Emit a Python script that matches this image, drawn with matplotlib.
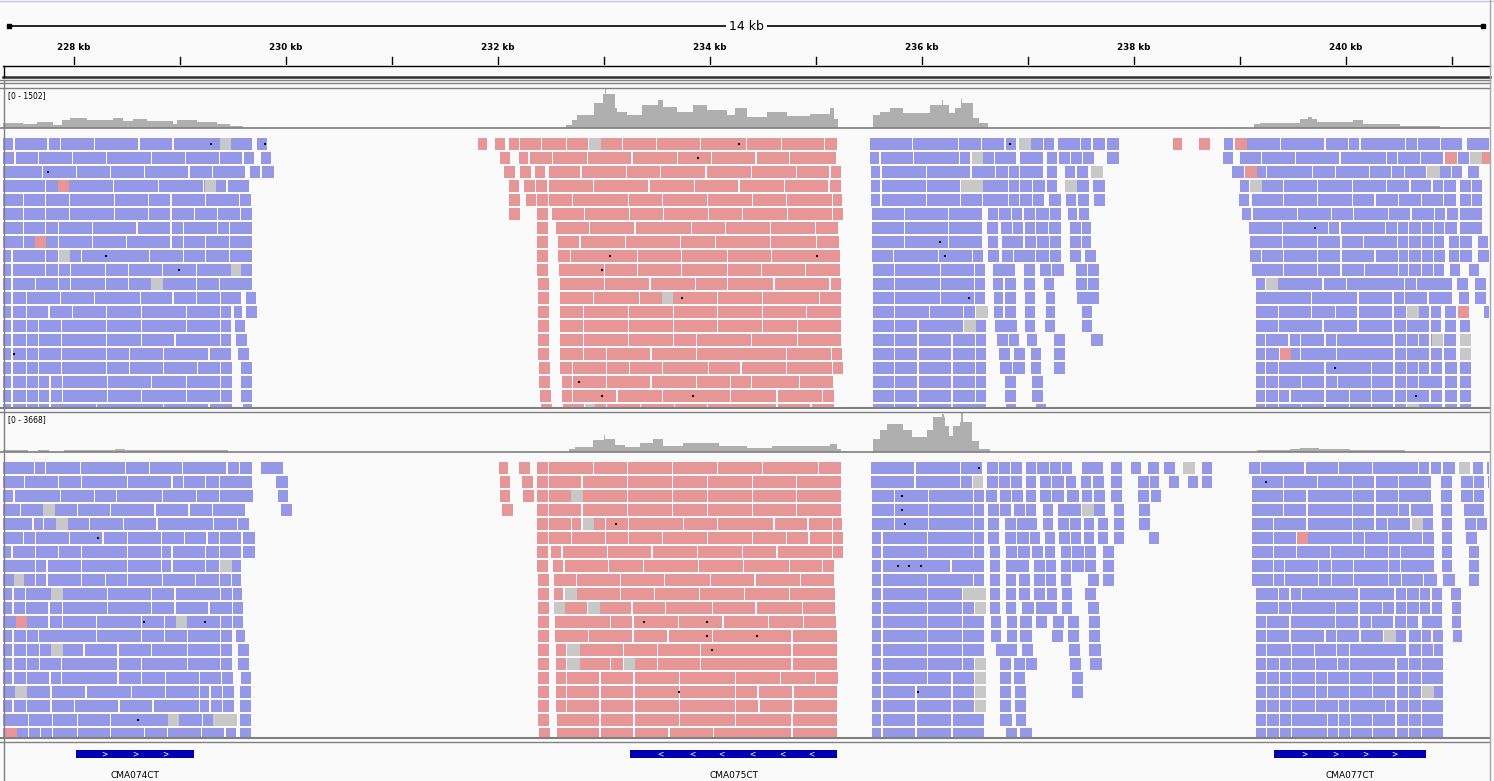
import matplotlib
matplotlib.use('Agg')
import matplotlib.pyplot as plt

# visible window (kb) and genes
X0, X1 = 227.33, 241.36
gene_names = ['CMA074CT', 'CMA075CT', 'CMA077CT']
gene_start = [228.02, 233.25, 239.32]
gene_end = [229.13, 235.20, 240.76]
gene_strand = ['+', '-', '+']
gene_chevrons = [[228.29, 228.58, 228.86],
                 [233.53, 233.83, 234.11, 234.40, 234.68, 234.96],
                 [239.61, 239.90, 240.18, 240.46]]

# coverage tracks: step points (kb, depth)
cov1_max = 1502
cov1_pos = [227.33, 227.52, 227.65, 227.80, 227.89, 227.96, 228.12, 228.37, 228.46, 228.56,
            228.69, 228.93, 228.97, 229.16, 229.35, 229.47, 229.59,
            232.64, 232.70, 232.75, 232.91, 232.99, 233.01, 233.02, 233.10, 233.12, 233.22,
            233.36, 233.51, 233.56, 233.69, 233.84, 233.97, 234.16, 234.24, 234.35, 234.54,
            234.73, 234.94, 235.13, 235.17, 235.21,
            235.54, 235.60, 235.70, 235.82, 236.08, 236.19, 236.20, 236.26, 236.31, 236.37,
            236.38, 236.48, 236.54, 236.62,
            239.13, 239.19, 239.57, 239.64, 239.68, 239.73, 240.07, 240.16, 240.51, 240.89]
cov1_val = [158, 119, 198, 79, 277, 356, 277, 375, 237, 316,
            237, 119, 277, 198, 138, 59, 0,
            79, 277, 474, 948, 1304, 1502, 1304, 751, 593, 474,
            869, 1067, 790, 593, 869, 672, 474, 751, 395, 593,
            435, 514, 751, 316, 0,
            474, 593, 751, 553, 869, 1067, 869, 553, 751, 1106,
            948, 356, 158, 0,
            119, 158, 316, 395, 316, 198, 277, 119, 59, 0]

cov2_max = 3668
cov2_pos = [227.33, 227.57, 227.66, 227.76, 227.91, 228.39, 228.48, 229.45,
            232.67, 232.73, 232.90, 233.00, 233.01, 233.10, 233.20, 233.34, 233.46, 233.56,
            233.75, 234.09, 234.35, 234.59, 235.13, 235.20, 235.24,
            235.54, 235.60, 235.67, 235.82, 235.91, 236.05, 236.10, 236.19, 236.21, 236.22,
            236.26, 236.29, 236.36, 236.37, 236.39, 236.47, 236.54, 236.64,
            239.16, 239.47, 239.57, 239.75, 240.04, 240.56]
cov2_val = [97, 0, 97, 0, 145, 193, 145, 0,
            193, 386, 1062, 1544, 1158, 579, 386, 772, 1158, 483,
            772, 483, 290, 483, 676, 193, 0,
            1158, 2027, 2606, 2027, 1351, 2027, 3281, 3571, 3281, 2413,
            1448, 2413, 2799, 3668, 2799, 965, 193, 0,
            97, 193, 290, 193, 145, 0]

# reads: one list per row, each row holds runs of read boundaries (kb)
t1_left = [
    [[227.33, 227.44, 227.76, 227.88, 228.20, 228.62, 228.94, 229.69], [229.73, 229.83]],
    [[227.33, 227.45, 227.67, 227.99, 228.31, 228.74, 229.06, 229.38, 229.60, 229.71], [229.76, 229.87]],
    [[227.33, 227.71, 228.03, 228.35, 228.67, 229.09, 229.31, 229.63], [229.66, 229.77, 229.90]],
    [[227.33, 227.74, 228.38, 228.80, 229.23, 229.45, 229.66]],
    [[227.33, 227.53, 227.74, 227.96, 228.39, 228.71, 228.92, 229.25, 229.57, 229.68]],
    [[227.33, 227.53, 227.74, 227.96, 228.39, 228.71, 228.92, 229.14, 229.36, 229.58, 229.69]],
    [[227.33, 227.53, 227.74, 227.86, 228.18, 228.60, 228.92, 229.04, 229.36, 229.47, 229.69]],
    [[227.33, 227.53, 227.74, 227.86, 228.18, 228.50, 228.92, 229.04, 229.25, 229.47, 229.69]],
    [[227.33, 227.42, 227.74, 227.86, 228.08, 228.72, 229.04, 229.25, 229.47, 229.69]],
    [[227.33, 227.42, 227.74, 227.86, 227.97, 228.30, 228.52, 228.84, 229.16, 229.69]],
    [[227.33, 227.42, 227.64, 227.86, 227.97, 228.30, 228.52, 229.16, 229.38, 229.69]],
    [[227.33, 227.42, 227.56, 227.88, 228.20, 228.63, 228.94, 229.16, 229.39, 229.59], [229.62, 229.73]],
    [[227.33, 227.42, 227.56, 227.77, 227.99, 228.31, 228.64, 229.07, 229.39, 229.49], [229.51, 229.60], [229.62, 229.74]],
    [[227.33, 227.42, 227.56, 227.67, 227.89, 228.31, 228.64, 229.07, 229.39, 229.49], [229.52, 229.63]],
    [[227.33, 227.42, 227.56, 227.67, 227.89, 228.31, 228.64, 228.96, 229.39, 229.49], [229.53, 229.64]],
    [[227.33, 227.42, 227.56, 227.67, 227.89, 228.31, 228.53, 228.85, 229.28, 229.49], [229.55, 229.66]],
    [[227.33, 227.42, 227.56, 227.67, 227.89, 228.31, 228.53, 228.85, 229.17, 229.39, 229.50], [229.58, 229.69]],
    [[227.33, 227.42, 227.56, 227.67, 227.78, 227.90, 228.32, 228.74, 229.07, 229.39, 229.50], [229.58, 229.69]],
    [[227.33, 227.42, 227.56, 227.67, 227.78, 227.90, 228.32, 228.64, 229.07, 229.39, 229.50], [229.58, 229.69]],
    [[227.33, 227.42, 227.56, 227.67, 227.78, 228.22, 228.85, 229.28, 229.50], [229.59, 229.69]],
]
t1_pink = [
    [[231.81, 231.91], [231.97, 232.08], [232.10, 232.21, 232.42, 232.65, 232.86, 233.18, 233.50, 233.92, 234.35, 234.68, 235.09, 235.21],
     [238.37, 238.47], [238.61, 238.73]],
    [[232.02, 232.13], [232.20, 232.30, 232.52, 232.85, 233.27, 233.70, 234.02, 234.44, 234.76, 235.20]],
    [[232.06, 232.17], [232.21, 232.32], [232.35, 232.46], [232.48, 232.79, 233.22, 233.54, 233.97, 234.40, 234.82, 235.14, 235.25]],
    [[232.10, 232.21], [232.25, 232.36, 232.47], [232.48, 232.91, 233.43, 233.86, 234.28, 234.71, 235.13, 235.25]],
    [[232.10, 232.22], [232.26, 232.37, 232.48, 232.71, 233.24, 233.56, 233.98, 234.41, 234.73, 235.16, 235.26]],
    [[232.10, 232.22], [232.37, 232.48], [232.51, 232.82, 233.25, 233.57, 233.99, 234.31, 234.74, 235.16, 235.27]],
    [[232.37, 232.48], [232.55, 232.87, 233.30, 233.83, 234.15, 234.58, 235.00, 235.22]],
    [[232.37, 232.48], [232.57, 232.78, 233.21, 233.73, 234.06, 234.58, 235.01, 235.23]],
    [[232.37, 232.48], [232.57, 232.69, 233.32, 233.74, 234.17, 234.59, 235.24]],
    [[232.37, 232.48], [232.58, 233.01, 233.32, 233.74, 234.17, 234.49, 234.91, 235.24]],
    [[232.38, 232.49], [232.59, 233.01, 233.44, 233.87, 234.17, 234.61, 235.14, 235.25]],
    [[232.38, 232.49], [232.59, 232.91, 233.34, 234.08, 234.50, 235.04, 235.25]],
    [[232.38, 232.49], [232.59, 232.81, 233.24, 233.66, 234.08, 234.50, 234.92, 235.25]],
    [[232.38, 232.49], [232.59, 232.81, 233.24, 233.66, 234.08, 234.50, 234.83, 235.25]],
    [[232.38, 232.49], [232.59, 232.81, 233.24, 233.66, 233.88, 234.40, 234.83, 235.25]],
    [[232.38, 232.49], [232.59, 232.81, 233.03, 233.45, 233.88, 234.73, 235.15, 235.26]],
    [[232.39, 232.50], [232.59, 232.71, 233.03, 233.25, 233.56, 233.99, 234.30, 234.73, 235.16, 235.27]],
    [[232.39, 232.50], [232.60, 232.71, 233.03, 233.45, 233.88, 234.20, 234.40, 234.85, 235.17]],
    [[232.40, 232.51], [232.60, 232.71, 233.13, 233.56, 234.20, 234.64, 235.07, 235.18]],
    [[232.41, 232.52], [232.61, 232.82, 233.03, 233.35, 233.67, 233.98, 234.64, 234.96, 235.18]],
]
t1_mid = [
    [[235.51, 235.92, 236.35, 236.57, 236.79, 236.90], [236.92, 237.03, 237.15, 237.26], [237.28, 237.50, 237.61, 237.74], [237.75, 237.87]],
    [[235.51, 235.61, 235.93, 236.36, 236.47, 236.58, 236.69, 236.90], [236.93, 237.15], [237.18, 237.29, 237.41, 237.52, 237.64], [237.75, 237.87]],
    [[235.52, 235.62, 236.05, 236.47, 236.70, 236.82, 236.93, 237.15], [237.18, 237.29], [237.35, 237.46, 237.58], [237.60, 237.71]],
    [[235.52, 235.62, 236.05, 236.37, 236.58, 236.82, 236.93, 237.05, 237.17], [237.18, 237.29], [237.35, 237.46, 237.59], [237.61, 237.74]],
    [[235.52, 235.62, 236.05, 236.37, 236.58, 236.82, 236.93, 237.05, 237.16], [237.20, 237.32], [237.36, 237.47, 237.59], [237.62, 237.74]],
    [[235.53, 235.84, 236.26, 236.58], [236.62, 236.73, 236.85, 236.96, 237.08, 237.21, 237.32], [237.38, 237.48, 237.59]],
    [[235.53, 235.84, 236.26, 236.58], [236.61, 236.73], [236.75, 236.86, 236.97, 237.08, 237.20, 237.32], [237.40, 237.51, 237.61]],
    [[235.53, 235.84, 236.26, 236.58], [236.62, 236.73], [236.76, 236.97, 237.09, 237.21, 237.32], [237.40, 237.51, 237.61]],
    [[235.53, 235.74, 236.16, 236.48, 236.59], [236.62, 236.74], [236.76, 236.87, 237.08, 237.21, 237.32], [237.40, 237.51], [237.54, 237.65]],
    [[235.54, 235.75, 236.18, 236.50, 236.61], [236.67, 236.89], [236.96, 237.08], [237.11, 237.23, 237.35], [237.45, 237.57, 237.68]],
    [[235.54, 235.75, 236.18, 236.50, 236.61], [236.67, 236.78, 236.90], [236.96, 237.08], [237.15, 237.26], [237.45, 237.57, 237.68]],
    [[235.54, 235.75, 236.18, 236.50, 236.61], [236.68, 236.78, 236.90], [236.97, 237.08], [237.17, 237.27], [237.46, 237.68]],
    [[235.54, 235.75, 236.08, 236.40, 236.51, 236.62], [236.68, 236.78, 236.90], [236.97, 237.08], [237.17, 237.27], [237.51, 237.62]],
    [[235.54, 235.75, 235.97, 236.40, 236.51, 236.62], [236.69, 236.91], [236.97, 237.08], [237.16, 237.27], [237.51, 237.62]],
    [[235.54, 235.75, 235.97, 236.29, 236.51, 236.62], [236.71, 236.82, 236.93], [236.99, 237.10], [237.25, 237.36], [237.60, 237.72]],
    [[235.54, 235.75, 235.97, 236.29, 236.51, 236.62], [236.73, 236.84], [236.87, 236.98], [237.03, 237.14], [237.25, 237.36]],
    [[235.54, 235.75, 235.97, 236.29, 236.51, 236.62], [236.74, 236.86, 236.98], [237.03, 237.14], [237.25, 237.36]],
    [[235.54, 235.75, 235.97, 236.29, 236.51, 236.62], [236.78, 236.90], [237.04, 237.15]],
    [[235.54, 235.75, 235.97, 236.29, 236.51, 236.62], [236.78, 236.90], [237.04, 237.15]],
    [[235.54, 235.75, 235.97, 236.29, 236.62], [236.79, 236.90], [237.08, 237.18]],
]
t1_right = [
    [[238.85, 238.95, 239.07, 239.39, 239.81, 240.03, 240.14, 240.57, 240.68, 240.90, 241.11], [241.14, 241.36]],
    [[238.84, 238.95], [239.00, 239.21, 239.53, 239.95, 240.39, 240.49, 240.71, 240.93], [240.94, 241.06, 241.17, 241.28, 241.36]],
    [[238.93, 239.05, 239.16, 239.26, 239.69, 239.91, 240.23, 240.44, 240.56, 240.77, 240.89, 241.00, 241.11], [241.15, 241.27]],
    [[239.00, 239.10, 239.21, 239.42, 239.74, 240.07, 240.39, 240.61, 240.82, 240.93, 241.05], [241.08, 241.19, 241.30]],
    [[238.99, 239.10], [239.11, 239.42, 239.74, 240.07, 240.28, 240.50, 240.72, 240.93, 241.05], [241.08, 241.19, 241.30]],
    [[239.02, 239.12, 239.55, 239.87, 240.08, 240.41, 240.62, 240.84, 240.95, 241.07], [241.08, 241.30]],
    [[239.09, 239.41, 239.84, 239.95, 240.38, 240.49, 240.60, 240.72, 240.83, 240.94, 241.06], [241.08, 241.30]],
    [[239.10, 239.41, 239.74, 239.96, 240.17, 240.49, 240.60, 240.72, 240.83, 240.94], [240.97, 241.08, 241.20], [241.25, 241.35]],
    [[239.10, 239.21, 239.42, 239.74, 239.96, 240.28, 240.50, 240.60, 240.72, 240.83, 240.95], [240.97, 241.08, 241.20], [241.25, 241.36]],
    [[239.11, 239.42, 239.74, 239.96, 240.18, 240.50, 240.60, 240.72, 240.83, 240.94], [240.98, 241.09], [241.16, 241.27]],
    [[239.15, 239.25, 239.36, 239.79, 240.01, 240.56, 240.67, 241.01], [241.05, 241.16], [241.22, 241.33]],
    [[239.15, 239.68, 240.12, 240.45, 240.56, 240.78, 241.01], [241.07, 241.17], [241.22, 241.33]],
    [[239.15, 239.37, 239.68, 239.91, 240.12, 240.45, 240.58, 240.69, 240.80, 240.91], [240.94, 241.05], [241.06, 241.16], [241.30, 241.36]],
    [[239.15, 239.37, 239.79, 240.12, 240.45, 240.58, 240.80, 240.91], [240.94, 241.05], [241.08, 241.18]],
    [[239.15, 239.25, 239.47, 239.58, 239.81, 239.92, 240.46, 240.58, 240.69, 240.80, 240.92], [240.93, 241.05], [241.08, 241.18]],
    [[239.15, 239.25, 239.38, 239.48, 239.58, 239.92, 240.46, 240.58, 240.80, 240.92], [240.93, 241.05], [241.08, 241.18]],
    [[239.15, 239.25, 239.37, 239.81, 240.25, 240.46, 240.58, 240.69, 240.80, 240.92], [240.94, 241.06], [241.08, 241.19]],
    [[239.15, 239.25, 239.37, 239.59, 239.81, 239.93, 240.25, 240.46, 240.58, 240.69, 240.92], [240.94, 241.06], [241.08, 241.19]],
    [[239.15, 239.25, 239.37, 239.48, 239.81, 240.04, 240.25, 240.46, 240.58, 240.80, 240.92], [240.94, 241.06], [241.08, 241.19]],
    [[239.15, 239.25, 239.37, 239.59, 239.81, 240.04, 240.25, 240.46, 240.58, 240.69, 240.92], [240.94, 241.06], [241.08, 241.19]],
]
# mismatch blocks (row, start, end, g=grey / p=pink) and insertion dots (row, pos)
t1_marks = [(0, 229.38, 229.48, 'g'), (3, 229.24, 229.34, 'g'), (8, 227.86, 227.96, 'g'), (9, 229.48, 229.58, 'g'),
            (10, 228.73, 228.84, 'g'), (3, 227.85, 227.95, 'p'), (7, 227.63, 227.74, 'p'),
            (0, 232.86, 232.97, 'g'), (11, 233.55, 233.65, 'g'), (19, 232.82, 232.92, 'g'),
            (0, 236.92, 237.03, 'g'), (1, 236.47, 236.58, 'g'), (2, 237.60, 237.71, 'g'), (3, 236.37, 236.58, 'g'),
            (3, 237.35, 237.46, 'g'), (12, 236.51, 236.62, 'g'), (13, 236.40, 236.51, 'g'),
            (0, 238.95, 239.07, 'p'), (1, 240.94, 241.05, 'p'), (1, 241.28, 241.36, 'p'), (1, 241.17, 241.28, 'g'),
            (2, 239.05, 239.16, 'p'), (2, 240.77, 240.89, 'g'), (3, 239.10, 239.21, 'g'), (10, 239.25, 239.36, 'g'),
            (12, 240.58, 240.69, 'g'), (12, 241.06, 241.16, 'p'), (14, 240.81, 240.92, 'g'), (14, 241.08, 241.18, 'g'),
            (15, 239.38, 239.48, 'p'), (15, 241.08, 241.18, 'g'), (19, 240.58, 240.69, 'g')]
t1_dots = [(0, 229.29), (0, 229.80), (2, 227.75), (8, 228.30), (9, 228.99), (15, 227.43),
           (0, 234.27), (1, 233.89), (8, 233.06), (8, 235.01), (9, 232.98), (11, 233.74), (17, 232.76),
           (18, 232.98), (18, 233.84), (0, 236.83), (7, 236.17), (8, 236.22), (11, 236.44),
           (6, 239.71), (16, 239.90), (18, 240.66)]

t2_left = [
    [[227.33, 227.63, 227.74, 228.07, 228.49, 228.72, 229.03, 229.45, 229.57, 229.69], [229.76, 229.98]],
    [[227.33, 227.54, 227.86, 228.08, 228.51, 228.93, 229.04, 229.25, 229.38, 229.69], [229.91, 230.03]],
    [[227.33, 227.44, 227.88, 228.20, 228.41, 228.84, 229.16, 229.38, 229.70], [229.92, 230.03]],
    [[227.33, 227.50, 228.04, 228.35, 228.77, 229.09, 229.31, 229.63], [229.95, 230.07]],
    [[227.33, 227.62, 227.72, 228.15, 228.47, 228.79, 229.32, 229.55, 229.66]],
    [[227.33, 227.53, 227.64, 227.96, 228.28, 228.51, 228.83, 229.05, 229.26, 229.38, 229.59, 229.72]],
    [[227.33, 227.42, 227.64, 227.86, 228.08, 228.51, 228.83, 228.93, 229.25, 229.38, 229.59, 229.72]],
    [[227.33, 227.64, 227.75, 228.08, 228.51, 228.83, 228.93, 229.25, 229.38, 229.59]],
    [[227.33, 227.64, 227.75, 228.08, 228.30, 228.51, 228.84, 229.15, 229.38, 229.49, 229.59]],
    [[227.33, 227.43, 227.55, 228.32, 228.74, 228.96, 229.39, 229.50, 229.60]],
    [[227.33, 227.43, 227.55, 227.77, 227.90, 228.32, 228.74, 228.96, 229.28, 229.50, 229.61]],
    [[227.33, 227.77, 227.90, 228.22, 228.64, 228.86, 229.39, 229.50, 229.61]],
    [[227.33, 227.43, 227.56, 227.67, 228.22, 228.64, 228.86, 229.08, 229.39, 229.50], [229.53, 229.63]],
    [[227.33, 227.43, 227.56, 227.68, 228.10, 228.42, 228.74, 229.08, 229.39, 229.50], [229.55, 229.66]],
    [[227.33, 227.43, 227.56, 227.68, 227.89, 228.42, 228.64, 229.08, 229.39, 229.50], [229.55, 229.66]],
    [[227.33, 227.43, 227.56, 227.78, 227.89, 228.42, 228.64, 228.87, 229.19, 229.40, 229.51], [229.58, 229.68]],
    [[227.33, 227.79, 228.12, 228.55, 228.87, 229.19, 229.29, 229.41, 229.52], [229.57, 229.68]],
    [[227.33, 227.43, 227.56, 227.79, 228.01, 228.43, 228.75, 229.19, 229.29, 229.41, 229.52], [229.57, 229.68]],
    [[227.33, 227.58, 227.80, 228.04, 228.35, 229.22, 229.54], [229.57, 229.68]],
    [[227.33, 227.58, 227.69, 227.80, 228.04, 228.35, 228.67, 228.89, 229.21, 229.43, 229.54], [229.57, 229.68]],
]
t2_pink = [
    [[232.01, 232.11], [232.20, 232.31], [232.37, 232.48, 232.91, 233.23, 233.65, 234.08, 234.50, 235.03, 235.25]],
    [[232.02, 232.13], [232.23, 232.34], [232.37, 232.48, 232.80, 233.23, 233.65, 233.98, 234.41, 234.82, 235.25]],
    [[232.02, 232.13], [232.24, 232.35], [232.37, 232.48, 232.80, 233.23, 233.65, 233.98, 234.41, 234.82, 235.25]],
    [[232.04, 232.15], [232.37, 232.48, 232.80, 233.23, 233.65, 233.98, 234.41, 234.82, 235.25]],
    [[232.37, 232.48, 232.70, 232.80, 232.91, 233.02, 233.24, 233.76, 234.08, 234.61, 234.93, 235.16, 235.26]],
    [[232.37, 232.48, 232.70, 233.02, 233.24, 233.56, 233.98, 234.41, 234.73, 234.94, 235.16, 235.27]],
    [[232.37, 232.48], [232.50, 232.61, 233.04, 233.46, 233.89, 234.31, 234.64, 235.16, 235.27]],
    [[232.37, 232.48], [232.52, 232.63, 233.05, 233.38, 233.90, 234.32, 234.76, 235.07, 235.18]],
    [[232.38, 232.49], [232.53, 232.75, 233.16, 233.58, 234.01, 234.43, 234.86, 235.18]],
    [[232.38, 232.49], [232.53, 232.63, 232.75, 233.16, 233.48, 233.91, 234.33, 234.76, 235.19]],
    [[232.38, 232.49], [232.53, 232.63, 232.85, 232.96, 233.27, 233.59, 234.03, 234.44, 234.88, 235.19]],
    [[232.38, 232.49], [232.54, 233.07, 233.28, 233.71, 234.13, 234.56, 234.89, 235.20]],
    [[232.38, 232.49], [232.54, 232.86, 233.28, 233.61, 234.03, 234.78, 235.21]],
    [[232.38, 232.49], [232.55, 232.65, 232.77, 233.19, 233.51, 233.92, 234.78, 235.21]],
    [[232.38, 232.49], [232.55, 232.65, 232.77, 233.07, 233.19, 233.29, 233.51, 233.92, 234.78, 235.21]],
    [[232.38, 232.49], [232.55, 232.65, 232.97, 233.29, 233.72, 234.25, 234.67, 235.00, 235.22]],
    [[232.38, 232.49], [232.55, 232.65, 232.97, 233.29, 233.72, 234.25, 234.46, 234.79, 235.21]],
    [[232.38, 232.49], [232.55, 232.65, 232.97, 233.29, 233.72, 234.25, 234.47, 234.79, 235.21]],
    [[232.38, 232.49], [232.56, 232.97, 233.29, 233.72, 234.25, 234.78, 235.21]],
    [[232.39, 232.50], [232.56, 232.97, 233.29, 233.62, 234.04, 234.78, 235.21]],
]
t2_mid = [
    [[235.52, 235.94, 236.37, 236.58], [236.61, 236.73, 236.84, 236.96], [236.98, 237.09, 237.21, 237.32, 237.43], [237.51, 237.72],
     [237.78, 237.90], [237.97, 238.08], [238.13, 238.25], [238.28, 238.40], [238.46, 238.58], [238.64, 238.75]],
    [[235.52, 235.94, 236.37, 236.48, 236.58], [236.61, 236.73, 236.84, 236.96], [236.98, 237.09], [237.11, 237.23, 237.35],
     [237.36, 237.47], [237.50, 237.61, 237.73], [237.78, 237.90], [238.04, 238.15, 238.25], [238.33, 238.44], [238.51, 238.62], [238.64, 238.75]],
    [[235.53, 235.75, 236.07, 236.49, 236.60, 236.72], [236.74, 236.85, 236.97], [236.98, 237.09], [237.11, 237.23, 237.35],
     [237.37, 237.49], [237.51, 237.62, 237.74], [237.78, 237.90], [238.04, 238.15], [238.16, 238.27]],
    [[235.53, 235.75, 236.07, 236.49, 236.60], [236.62, 236.74, 236.85], [236.87, 236.98, 237.09], [237.14, 237.25],
     [237.28, 237.51, 237.62, 237.74], [237.81, 237.92], [238.05, 238.16]],
    [[235.53, 235.75, 236.07, 236.49, 236.60], [236.62, 236.74], [236.78, 236.90, 237.10], [237.14, 237.25],
     [237.28, 237.40, 237.51], [237.53, 237.64], [237.66, 237.77], [237.81, 237.92], [238.05, 238.16]],
    [[235.53, 235.63, 236.06, 236.49, 236.60], [236.62, 236.74], [236.78, 236.90, 237.02, 237.13], [237.16, 237.27],
     [237.29, 237.41, 237.51], [237.53, 237.64], [237.66, 237.77], [237.81, 237.92], [238.14, 238.25]],
    [[235.53, 235.63, 236.06, 236.49, 236.60], [236.64, 236.75], [236.79, 236.91, 237.03], [237.04, 237.15], [237.16, 237.27],
     [237.31, 237.42, 237.54, 237.65], [237.71, 237.82]],
    [[235.53, 235.63, 236.28, 236.60], [236.64, 236.75], [236.79, 237.02], [237.06, 237.17, 237.28], [237.31, 237.42, 237.54, 237.65], [237.71, 237.82]],
    [[235.53, 235.63, 236.06, 236.49, 236.60], [236.64, 236.75], [236.79, 236.90], [236.92, 237.03], [237.06, 237.17, 237.28],
     [237.31, 237.42], [237.57, 237.68], [237.71, 237.82]],
    [[235.53, 235.63, 236.06, 236.39, 236.60], [236.64, 236.75], [236.79, 236.90], [236.92, 237.03], [237.06, 237.17],
     [237.18, 237.29], [237.32, 237.43], [237.54, 237.65]],
    [[235.53, 235.63, 236.06, 236.39, 236.50, 236.60], [236.64, 236.75], [236.79, 236.90], [236.94, 237.07], [237.08, 237.29],
     [237.32, 237.43], [237.57, 237.68]],
    [[235.53, 235.63, 236.06, 236.39, 236.60], [236.65, 236.76], [236.80, 236.91], [236.93, 237.05], [237.08, 237.19],
     [237.24, 237.35], [237.38, 237.49], [237.58, 237.69]],
    [[235.53, 235.63, 236.06, 236.39, 236.60], [236.65, 236.76], [236.80, 236.91], [236.93, 237.05], [237.23, 237.34],
     [237.38, 237.49], [237.58, 237.69]],
    [[235.53, 235.63, 236.06, 236.39, 236.60], [236.70, 236.91], [236.94, 237.06], [237.39, 237.50], [237.58, 237.70]],
    [[235.53, 235.63, 236.06, 236.39, 236.50, 236.60], [236.74, 236.85], [236.87, 236.98, 237.10], [237.40, 237.51], [237.59, 237.71]],
    [[235.53, 235.63, 236.06, 236.29, 236.50, 236.60], [236.74, 236.85], [236.87, 236.98], [237.42, 237.53]],
    [[235.53, 235.63, 235.95, 236.29, 236.50, 236.60], [236.74, 236.85], [236.88, 236.99], [237.42, 237.53]],
    [[235.53, 235.63, 235.95, 236.29, 236.50, 236.60], [236.74, 236.85], [236.88, 236.99]],
    [[235.53, 235.63, 235.95, 236.29, 236.60], [236.74, 236.86], [236.89, 236.99]],
    [[235.53, 235.63, 235.95, 236.29, 236.60], [236.79, 236.91], [236.93, 237.05]],
]
t2_right = [
    [[239.09, 239.20, 239.62, 239.94, 240.26, 240.69, 240.80, 240.91], [240.92, 241.04], [241.07, 241.17], [241.20, 241.31], [241.33, 241.36]],
    [[239.11, 239.42, 239.74, 240.07, 240.28, 240.50, 240.82], [240.90, 241.01], [241.09, 241.21, 241.32], [241.34, 241.36]],
    [[239.11, 239.42, 239.64, 240.07, 240.28, 240.50, 240.82], [240.90, 241.01], [241.09, 241.21, 241.32]],
    [[239.11, 239.42, 239.64, 240.07, 240.28, 240.50, 240.61, 240.83], [240.90, 241.01], [241.11, 241.32]],
    [[239.11, 239.32, 239.64, 240.07, 240.28, 240.40, 240.62, 240.73, 240.83], [240.91, 241.01], [241.12, 241.24, 241.34]],
    [[239.11, 239.32, 239.54, 239.64, 240.07, 240.18, 240.41, 240.73, 240.84], [240.91, 241.01], [241.13, 241.25]],
    [[239.11, 239.32, 239.54, 239.86, 240.18, 240.41, 240.52, 240.84], [240.91, 241.01], [241.16, 241.27]],
    [[239.11, 239.32, 239.43, 239.75, 239.87, 240.08, 240.41, 240.52, 240.84], [240.91, 241.01], [241.16, 241.27]],
    [[239.11, 239.32, 239.43, 239.75, 239.87, 240.08, 240.41, 240.53, 240.74, 240.87], [240.92, 241.04], [241.16, 241.27]],
    [[239.15, 239.37, 239.48, 239.59, 240.13, 240.47, 240.58, 240.70, 240.81, 240.92], [240.99, 241.10]],
    [[239.15, 239.37, 239.49, 239.91, 240.13, 240.35, 240.47, 240.58, 240.70, 240.81, 240.92], [241.00, 241.10]],
    [[239.15, 239.26, 239.48, 239.91, 240.13, 240.25, 240.46, 240.58, 240.69], [240.72, 240.92], [241.00, 241.10]],
    [[239.15, 239.26, 239.48, 239.81, 239.92, 240.14, 240.36, 240.47, 240.58], [240.60, 240.72, 240.82, 240.93], [241.01, 241.11]],
    [[239.15, 239.26, 239.49, 239.71, 239.92, 240.04, 240.58], [240.60, 240.72, 240.83, 240.93]],
    [[239.15, 239.26, 239.38, 239.49, 239.72, 239.93, 240.04, 240.48, 240.60, 240.72, 240.93]],
    [[239.15, 239.26, 239.38, 239.49, 239.72, 239.83, 240.04, 240.26, 240.48, 240.60, 240.72, 240.93]],
    [[239.15, 239.26, 239.38, 239.49, 239.72, 239.83, 240.04, 240.26, 240.48, 240.60, 240.72, 240.93]],
    [[239.15, 239.26, 239.38, 239.49, 239.72, 239.94, 240.04, 240.38, 240.48, 240.60, 240.72, 240.93]],
    [[239.15, 239.26, 239.38, 239.49, 239.83, 239.94, 240.05, 240.26, 240.48, 240.60, 240.72, 240.93]],
    [[239.15, 239.26, 239.38, 239.49, 239.83, 239.94, 240.05, 240.26, 240.48, 240.60, 240.72, 240.93]],
]
t2_marks = [(3, 227.71, 227.82, 'g'), (4, 227.83, 227.94, 'g'), (7, 229.38, 229.49, 'g'), (8, 227.43, 227.53, 'g'),
            (9, 227.78, 227.90, 'g'), (11, 227.45, 227.56, 'p'), (11, 228.96, 229.07, 'g'), (13, 227.78, 227.90, 'g'),
            (16, 227.44, 227.56, 'g'), (18, 228.89, 228.99, 'g'), (18, 229.31, 229.54, 'g'), (19, 227.35, 227.46, 'p'),
            (2, 232.69, 232.80, 'g'), (4, 232.80, 232.91, 'g'), (9, 232.63, 232.75, 'g'), (10, 232.53, 232.63, 'g'),
            (10, 232.85, 232.96, 'g'), (13, 232.65, 232.77, 'g'), (14, 232.65, 232.77, 'g'), (14, 233.19, 233.29, 'g'),
            (0, 238.46, 238.58, 'g'), (1, 236.48, 236.58, 'g'), (3, 237.51, 237.62, 'g'), (9, 236.39, 236.60, 'g'),
            (10, 236.50, 236.60, 'g'), (14, 236.50, 236.60, 'g'), (15, 236.50, 236.60, 'g'), (16, 236.50, 236.60, 'g'),
            (17, 236.50, 236.60, 'g'),
            (0, 241.07, 241.17, 'g'), (4, 240.62, 240.73, 'g'), (5, 239.54, 239.64, 'p'), (12, 240.36, 240.47, 'g'),
            (16, 240.72, 240.83, 'g')]
t2_dots = [(5, 228.23), (11, 228.66), (11, 229.24), (18, 228.60), (4, 233.11), (11, 233.38), (11, 233.97),
           (12, 233.97), (12, 234.44), (13, 234.02), (16, 233.71), (0, 236.54), (2, 235.81), (3, 235.81),
           (4, 235.84), (7, 235.77), (7, 235.88), (7, 235.99), (16, 235.96), (1, 239.25)]

BLUE, PINK, GREY = '#9598e6', '#e69697', '#c8c8c8'
COV = '#afafaf'
LINE = '#808080'
BG = '#fafafa'
GAP = 0.012   # white gap between neighbouring reads, kb

W, H = 1494, 781
fig = plt.figure(figsize=(W / 100, H / 100), dpi=100)
fig.patch.set_facecolor(BG)


def panel(top, bottom, left=3, right=1490):
    ax = fig.add_axes([left / W, 1 - bottom / H, (right - left) / W, (bottom - top) / H])
    ax.set_xlim(X0, X1)
    ax.axis('off')
    return ax


def draw_reads(ax, rows, color):
    for i, runs in enumerate(rows):
        for run in runs:
            segs = [(a, b - a - GAP) for a, b in zip(run[:-1], run[1:])]
            ax.broken_barh(segs, (i - 0.43, 0.86), facecolors=color, edgecolor='none')


def draw_track(ax, blues, pinks, marks, dots):
    for rows in blues:
        draw_reads(ax, rows, BLUE)
    draw_reads(ax, pinks, PINK)
    for row, a, b, kind in marks:
        ax.broken_barh([(a, b - a)], (row - 0.43, 0.86),
                       facecolors=GREY if kind == 'g' else PINK, edgecolor='none')
    ax.scatter([p for r, p in dots], [r for r, p in dots], s=3, marker='s', color='black', lw=0, zorder=5)


def draw_cov(ax, pos, val, top, label):
    ax.fill_between(pos, val, step='post', color=COV, lw=0)
    ax.set_ylim(0, top)
    ax.text(0.0035, 0.84, label, transform=ax.transAxes, fontsize=5.5, va='center', ha='left')


# ruler
ax_r = panel(0, 65)
ax_r.set_ylim(65, 0)
span = X1 - X0
ax_r.plot([X0 + 0.05, X1 - 0.06], [26, 26], color='black', lw=1.2)
ax_r.plot([X0 + 0.06], [26], marker='s', ms=3, color='black')
ax_r.plot([X1 - 0.07], [26], marker='s', ms=3, color='black')
ax_r.text((X0 + X1) / 2, 26, f'{round(span)} kb', ha='center', va='center', fontsize=9,
          bbox=dict(facecolor=BG, edgecolor='none', pad=2.5))
for kb in range(228, 242):
    ax_r.plot([kb, kb], [56.5, 65], color='black', lw=1)
    if kb % 2 == 0:
        ax_r.text(kb, 47, f'{kb} kb', ha='center', va='center', fontsize=6.3, fontweight='bold')

# coverage + reads, track 1
ax_c1 = panel(89, 127.5)
draw_cov(ax_c1, cov1_pos, cov1_val, cov1_max, f'[0 - {cov1_max}]')
ax_a1 = panel(131, 407)
ax_a1.set_ylim((407 - 144) / 14, (131 - 144) / 14)
draw_track(ax_a1, [t1_left, t1_mid, t1_right], t1_pink, t1_marks, t1_dots)

# coverage + reads, track 2
ax_c2 = panel(413, 451.5)
draw_cov(ax_c2, cov2_pos, cov2_val, cov2_max, f'[0 - {cov2_max}]')
ax_a2 = panel(455, 737)
ax_a2.set_ylim((737 - 468) / 14, (455 - 468) / 14)
draw_track(ax_a2, [t2_left, t2_mid, t2_right], t2_pink, t2_marks, t2_dots)

# genes
ax_g = panel(742, 781)
ax_g.set_ylim(39, 0)
for name, s, e, strand, chev in zip(gene_names, gene_start, gene_end, gene_strand, gene_chevrons):
    ax_g.broken_barh([(s, e - s)], (7.5, 8.5), facecolors='#0000b2', edgecolor='none')
    for c in chev:
        ax_g.text(c, 11.5, '>' if strand == '+' else '<', color='white', fontsize=5.5,
                  ha='center', va='center')
    ax_g.text((s + e) / 2, 33, name, ha='center', va='center', fontsize=6.5)

# track borders
ax_o = fig.add_axes([0, 0, 1, 1], zorder=10)
ax_o.set_xlim(0, W)
ax_o.set_ylim(H, 0)
ax_o.axis('off')
ax_o.patch.set_alpha(0)
ax_o.plot([0, W], [0.8, 0.8], color='#c8c8d8', lw=1)
ax_o.plot([3, 1490], [65.5, 65.5], color='black', lw=1)
ax_o.plot([3, 1490], [76.5, 76.5], color='#303030', lw=1.8)
ax_o.plot([3.5, 3.5], [65.5, 77], color='black', lw=1)
for y, lw in [(80, 1), (82.5, 1), (87.5, 1), (128, 1.2), (407.5, 1.5), (412, 1), (452, 1.2), (737.5, 1.5), (741.5, 1)]:
    ax_o.plot([0, 1490], [y, y], color=LINE, lw=lw)
ax_o.plot([3.5, 3.5], [80, H], color=LINE, lw=1)
ax_o.plot([1490, 1490], [0, H], color='#a8a8a8', lw=1)

fig.savefig('out.png', dpi=100, facecolor=BG)
